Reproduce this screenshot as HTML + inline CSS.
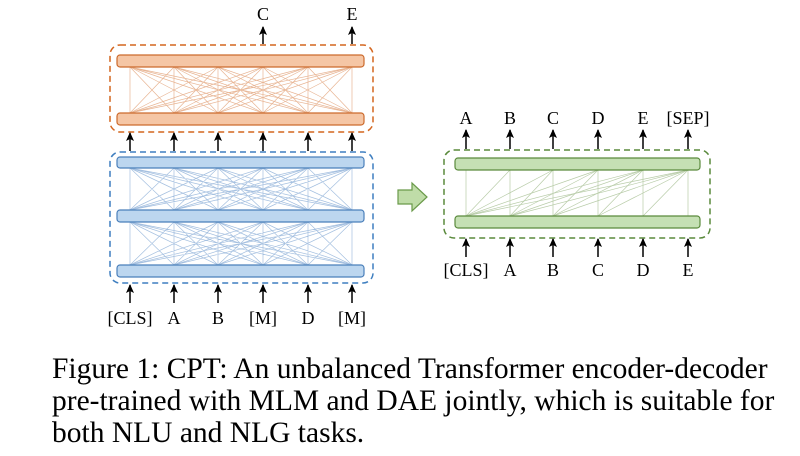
<!DOCTYPE html>
<html><head><meta charset="utf-8"><style>
body{margin:0;background:#fff;width:800px;height:456px;overflow:hidden}
svg{position:absolute;left:0;top:0}
.cap{position:absolute;left:52px;top:353px;font-family:"Liberation Serif",serif;font-size:29.5px;line-height:32px;color:#000;white-space:nowrap}
</style></head><body>
<svg width="800" height="456" viewBox="0 0 800 456" font-family="Liberation Serif, serif" font-size="18">
<defs>
<marker id="ah" markerWidth="9" markerHeight="8" refX="8" refY="4" orient="auto" markerUnits="userSpaceOnUse"><path d="M0,0 L9,4 L0,8 L2,4 Z" fill="#000"/></marker>
</defs>
<!-- orange -->
<rect x="110" y="45" width="263" height="87" rx="10" fill="none" stroke="#d4661f" stroke-width="1.5" stroke-dasharray="6,4"/>
<g stroke="#e8b594" stroke-width="0.7" fill="none">
<path d="M130,67L130,113M130,67L174,113M130,67L218,113M130,67L263,113M130,67L308,113M130,67L352,113
M174,67L130,113M174,67L174,113M174,67L218,113M174,67L263,113M174,67L308,113M174,67L352,113
M218,67L130,113M218,67L174,113M218,67L218,113M218,67L263,113M218,67L308,113M218,67L352,113
M263,67L130,113M263,67L174,113M263,67L218,113M263,67L263,113M263,67L308,113M263,67L352,113
M308,67L130,113M308,67L174,113M308,67L218,113M308,67L263,113M308,67L308,113M308,67L352,113
M352,67L130,113M352,67L174,113M352,67L218,113M352,67L263,113M352,67L308,113M352,67L352,113"/>
</g>
<rect x="117" y="55" width="247" height="12" rx="3" fill="#f5c6a5" stroke="#cc6a2c" stroke-width="1.2"/>
<rect x="117" y="113" width="247" height="12" rx="3" fill="#f5c6a5" stroke="#cc6a2c" stroke-width="1.2"/>
<!-- blue -->
<rect x="110" y="152" width="263" height="131" rx="10" fill="none" stroke="#3f7fc0" stroke-width="1.5" stroke-dasharray="6,4"/>
<g stroke="#a5c0e0" stroke-width="0.7" fill="none">
<path d="M130,168L130,210M130,168L174,210M130,168L218,210M130,168L263,210M130,168L308,210M130,168L352,210
M174,168L130,210M174,168L174,210M174,168L218,210M174,168L263,210M174,168L308,210M174,168L352,210
M218,168L130,210M218,168L174,210M218,168L218,210M218,168L263,210M218,168L308,210M218,168L352,210
M263,168L130,210M263,168L174,210M263,168L218,210M263,168L263,210M263,168L308,210M263,168L352,210
M308,168L130,210M308,168L174,210M308,168L218,210M308,168L263,210M308,168L308,210M308,168L352,210
M352,168L130,210M352,168L174,210M352,168L218,210M352,168L263,210M352,168L308,210M352,168L352,210"/>
<path d="M130,222L130,265M130,222L174,265M130,222L218,265M130,222L263,265M130,222L308,265M130,222L352,265
M174,222L130,265M174,222L174,265M174,222L218,265M174,222L263,265M174,222L308,265M174,222L352,265
M218,222L130,265M218,222L174,265M218,222L218,265M218,222L263,265M218,222L308,265M218,222L352,265
M263,222L130,265M263,222L174,265M263,222L218,265M263,222L263,265M263,222L308,265M263,222L352,265
M308,222L130,265M308,222L174,265M308,222L218,265M308,222L263,265M308,222L308,265M308,222L352,265
M352,222L130,265M352,222L174,265M352,222L218,265M352,222L263,265M352,222L308,265M352,222L352,265"/>
</g>
<rect x="117" y="157" width="247" height="11" rx="3" fill="#bcd6ef" stroke="#4a7fba" stroke-width="1.2"/>
<rect x="117" y="210" width="247" height="12" rx="3" fill="#bcd6ef" stroke="#4a7fba" stroke-width="1.2"/>
<rect x="117" y="265" width="247" height="12" rx="3" fill="#bcd6ef" stroke="#4a7fba" stroke-width="1.2"/>
<!-- left arrows -->
<g stroke="#000" stroke-width="1.5" marker-end="url(#ah)">
<line x1="263" y1="44" x2="263" y2="27"/><line x1="352" y1="44" x2="352" y2="27"/>
<line x1="130" y1="151" x2="130" y2="133"/><line x1="174" y1="151" x2="174" y2="133"/><line x1="218" y1="151" x2="218" y2="133"/><line x1="263" y1="151" x2="263" y2="133"/><line x1="308" y1="151" x2="308" y2="133"/><line x1="352" y1="151" x2="352" y2="133"/>
<line x1="130" y1="303" x2="130" y2="285"/><line x1="174" y1="303" x2="174" y2="285"/><line x1="218" y1="303" x2="218" y2="285"/><line x1="263" y1="303" x2="263" y2="285"/><line x1="308" y1="303" x2="308" y2="285"/><line x1="352" y1="303" x2="352" y2="285"/>
</g>
<g text-anchor="middle">
<text x="263" y="20">C</text><text x="352" y="20">E</text>
<text x="130" y="324">[CLS]</text><text x="174" y="324">A</text><text x="218" y="324">B</text><text x="263" y="324">[M]</text><text x="308" y="324">D</text><text x="352" y="324">[M]</text>
</g>
<!-- big arrow -->
<path d="M398,190 L412,190 L412,183 L427,197 L412,211 L412,204 L398,204 Z" fill="#bfdca8" stroke="#6a9a4a" stroke-width="1.2"/>
<!-- green -->
<rect x="444" y="150" width="266" height="88" rx="10" fill="none" stroke="#5a8a3c" stroke-width="1.5" stroke-dasharray="6,4"/>
<g stroke="#b8cca8" stroke-width="0.7">
<line x1="466" y1="170" x2="466" y2="216"/>
<line x1="510" y1="170" x2="510" y2="216"/><line x1="510" y1="170" x2="466" y2="216"/>
<line x1="553" y1="170" x2="553" y2="216"/><line x1="553" y1="170" x2="510" y2="216"/><line x1="553" y1="170" x2="466" y2="216"/>
<line x1="598" y1="170" x2="598" y2="216"/><line x1="598" y1="170" x2="553" y2="216"/><line x1="598" y1="170" x2="510" y2="216"/><line x1="598" y1="170" x2="466" y2="216"/>
<line x1="643" y1="170" x2="643" y2="216"/><line x1="643" y1="170" x2="598" y2="216"/><line x1="643" y1="170" x2="553" y2="216"/><line x1="643" y1="170" x2="510" y2="216"/><line x1="643" y1="170" x2="466" y2="216"/>
<line x1="688" y1="170" x2="688" y2="216"/><line x1="688" y1="170" x2="643" y2="216"/><line x1="688" y1="170" x2="598" y2="216"/><line x1="688" y1="170" x2="553" y2="216"/><line x1="688" y1="170" x2="510" y2="216"/><line x1="688" y1="170" x2="466" y2="216"/>
</g>
<rect x="455" y="158" width="245" height="12" rx="3" fill="#c5e0b4" stroke="#5a8a3c" stroke-width="1.2"/>
<rect x="455" y="216" width="245" height="12" rx="3" fill="#c5e0b4" stroke="#5a8a3c" stroke-width="1.2"/>
<g stroke="#000" stroke-width="1.5" marker-end="url(#ah)">
<line x1="466" y1="149" x2="466" y2="130"/><line x1="510" y1="149" x2="510" y2="130"/><line x1="553" y1="149" x2="553" y2="130"/><line x1="598" y1="149" x2="598" y2="130"/><line x1="643" y1="149" x2="643" y2="130"/><line x1="688" y1="149" x2="688" y2="130"/>
<line x1="466" y1="257" x2="466" y2="239"/><line x1="510" y1="257" x2="510" y2="239"/><line x1="553" y1="257" x2="553" y2="239"/><line x1="598" y1="257" x2="598" y2="239"/><line x1="643" y1="257" x2="643" y2="239"/><line x1="688" y1="257" x2="688" y2="239"/>
</g>
<g text-anchor="middle">
<text x="466" y="124">A</text><text x="510" y="124">B</text><text x="553" y="124">C</text><text x="598" y="124">D</text><text x="643" y="124">E</text><text x="688" y="124">[SEP]</text>
<text x="466" y="276">[CLS]</text><text x="510" y="276">A</text><text x="553" y="276">B</text><text x="598" y="276">C</text><text x="643" y="276">D</text><text x="688" y="276">E</text>
</g>
</svg>
<div class="cap">Figure 1: CPT: An unbalanced Transformer encoder-decoder<br>pre-trained with MLM and DAE jointly, which is suitable for<br>both NLU and NLG tasks.</div>
</body></html>
